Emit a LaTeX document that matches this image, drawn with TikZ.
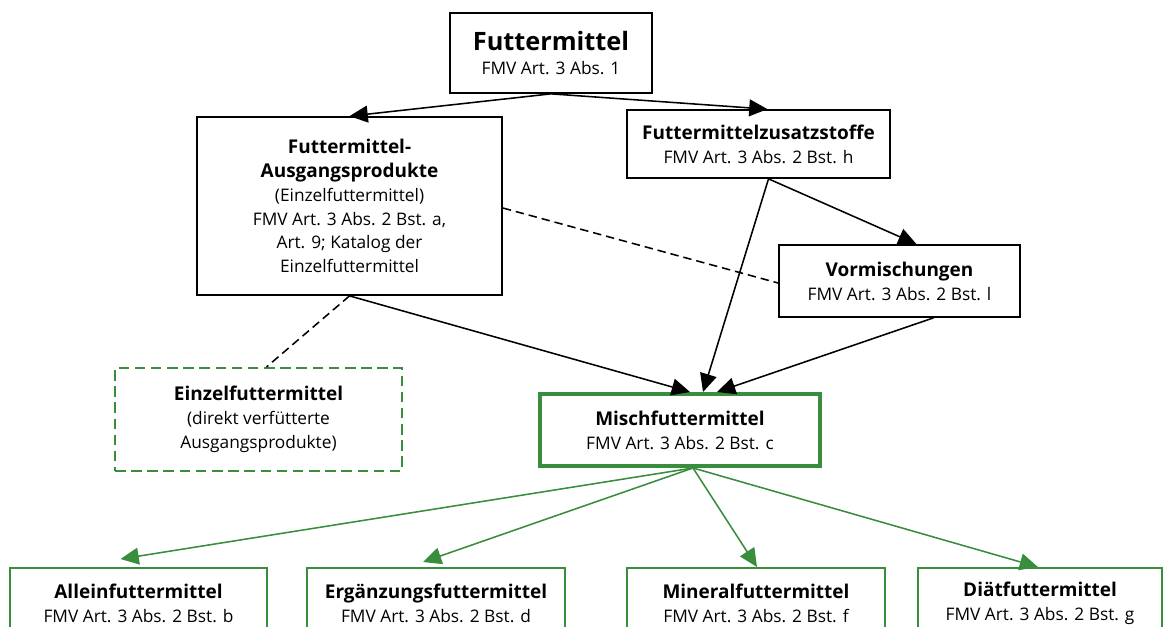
\documentclass[tikz,border=0pt]{standalone}
\usepackage{fontspec}
\setmainfont{Open Sans}
\usepackage{tikz}
\usetikzlibrary{arrows.meta,shapes,positioning,calc}
\usepackage{xcolor}
\definecolor{fmgreen}{RGB}{56,142,60}
\tikzstyle{arrow} = [line width=1.1pt,-{Triangle[length=13pt,width=12pt]}]
\newcommand{\boxtitle}[1]{{\fontsize{13.5}{18}\selectfont\bfseries #1}}

\begin{document}
\begin{tikzpicture}[
    x=0.025cm, y=-0.025cm,
    every node/.style={font=\fontsize{12.3}{17}\selectfont},
    box/.style={rectangle, draw=black, line width=1.2pt, fill=white, align=center, inner sep=0pt},
    greenbox/.style={box, draw=fmgreen, line width=1.4pt, minimum width=6.425cm, minimum height=1.75cm},
    mixbox/.style={box, draw=fmgreen, line width=2.8pt},
    dashbox/.style={box, draw=fmgreen, line width=1.4pt, dash pattern=on 7.5pt off 4pt},
    link/.style={line width=1.1pt, dash pattern=on 6pt off 3.5pt},
    greenarrow/.style={arrow, draw=fmgreen, fill=fmgreen}
]
\useasboundingbox (0,0) rectangle (1163,626);

% Top node
\node[box, minimum width=5.05cm, minimum height=2cm] (futter) at (551,53)
    {{\fontsize{18}{24}\selectfont\bfseries Futtermittel}\\FMV Art. 3 Abs. 1};

% Second row
\node[box, minimum width=7.625cm, minimum height=4.45cm] (ausgang) at (349.5,206)
    {\boxtitle{Futtermittel-}\\\boxtitle{Ausgangsprodukte}\\(Einzelfuttermittel)\\FMV Art. 3 Abs. 2 Bst. a,\\Art. 9; Katalog der\\Einzelfuttermittel};
\node[box, minimum width=6.575cm, minimum height=1.7cm] (zusatz) at (758.5,144)
    {\boxtitle{Futtermittelzusatzstoffe}\\FMV Art. 3 Abs. 2 Bst. h};
\node[box, minimum width=6.025cm, minimum height=1.8cm] (vorm) at (899.5,281)
    {\boxtitle{Vormischungen}\\FMV Art. 3 Abs. 2 Bst. l};

% Middle row
\node[dashbox, minimum width=7.175cm, minimum height=2.575cm] (einzel) at (258.5,419.5)
    {\boxtitle{Einzelfuttermittel}\\(direkt verfütterte\\Ausgangsprodukte)};
\node[mixbox, minimum width=7cm, minimum height=1.8cm] (misch) at (680,430)
    {\boxtitle{Mischfuttermittel}\\FMV Art. 3 Abs. 2 Bst. c};

% Bottom row
\node[greenbox] (allein) at (138.5,603) {\boxtitle{Alleinfuttermittel}\\FMV Art. 3 Abs. 2 Bst. b};
\node[greenbox] (ergaenz) at (436,603) {\boxtitle{Ergänzungsfuttermittel}\\FMV Art. 3 Abs. 2 Bst. d};
\node[greenbox] (mineral) at (756,603) {\boxtitle{Mineralfuttermittel}\\FMV Art. 3 Abs. 2 Bst. f};
\node[greenbox, minimum width=6.1cm] (diaet) at (1040,603) {\boxtitle{Diätfuttermittel}\\FMV Art. 3 Abs. 2 Bst. g};

% Arrows
\draw[arrow] (futter.south) -- (ausgang.north);
\draw[arrow] (futter.south) -- ($(zusatz.north)+(9,0)$);
\draw[arrow] ($(zusatz.south)+(10,0)$) -- ($(vorm.north)+(17,0)$);
\draw[arrow] ($(zusatz.south)+(10,0)$) -- ($(misch.north)+(23,0)$);
\draw[arrow] (ausgang.south) -- ($(misch.north)+(10,0)$);
\draw[arrow] ($(vorm.south)+(34,0)$) -- ($(misch.north)+(37,0)$);

% Dashed links
\draw[link] ($(ausgang.east)+(0,2)$) -- ($(vorm.west)+(0,2)$);
\draw[link] (ausgang.south) -- ($(einzel.north)+(8,0)$);

% Green arrows
\coordinate (ms) at ($(misch.south)+(13,0)$);
\draw[greenarrow] (ms) -- ($(allein.north)+(-18,-8)$);
\draw[greenarrow] (ms) -- ($(ergaenz.north)+(-13,-5)$);
\draw[greenarrow] (ms) -- ($(mineral.north)+(1,0)$);
\draw[greenarrow] (ms) -- ($(diaet.north)+(-2,0)$);

\end{tikzpicture}
\end{document}
